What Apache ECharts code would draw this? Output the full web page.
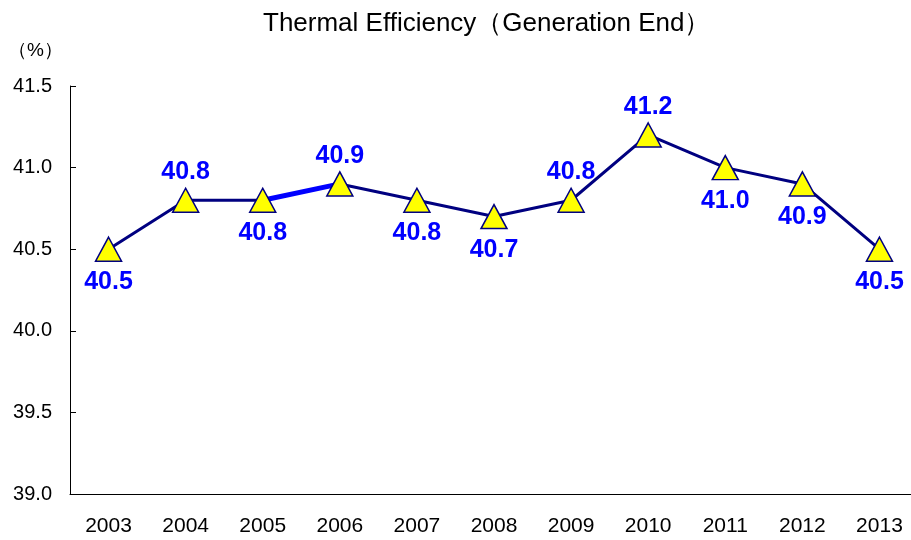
<!DOCTYPE html>
<html>
<head>
<meta charset="utf-8">
<script src="https://cdn.jsdelivr.net/npm/echarts@6/dist/echarts.min.js"></script>
<style>
  html, body { margin: 0; padding: 0; background: #fff; overflow: hidden; }
  /* the original plot runs a little past the right edge of the picture */
  #main { width: 920px; height: 540px; }
</style>
</head>
<body>
<div id="main"></div>
<script>
// data
var years = ['2003', '2004', '2005', '2006', '2007', '2008', '2009', '2010', '2011', '2012', '2013'];
var efficiency = [40.5, 40.8, 40.8, 40.9, 40.8, 40.7, 40.8, 41.2, 41.0, 40.9, 40.5];
var yTicks = [39.0, 39.5, 40.0, 40.5, 41.0, 41.5];

// labels above the marker for these years, the rest go below
var above = ['2004', '2006', '2009', '2010'];

var chart = echarts.init(document.getElementById('main'));

var points = efficiency.map(function (v, i) {
  var up = above.indexOf(years[i]) >= 0;
  return {
    value: v,
    label: { position: up ? 'top' : 'bottom', distance: up ? 3 : 8 }
  };
});

// the 2005-2006 piece is drawn brighter in the original
var hiSeg = efficiency.map(function (v, i) {
  return (i == 2 || i == 3) ? v : null;
});

var option = {
  backgroundColor: '#fff',
  animation: false,
  title: [{
    text: 'Thermal Efficiency（Generation End）',
    left: 258,
    top: 6,
    textStyle: { fontFamily: 'Liberation Sans', fontSize: 26, fontWeight: 'normal', color: '#000' }
  }, {
    text: '（%）',
    left: 3,
    top: 36,
    textStyle: { fontFamily: 'Liberation Sans', fontSize: 19, fontWeight: 'normal', color: '#000' }
  }],
  grid: { left: 70, right: 2, top: 86, bottom: 46 },
  xAxis: {
    type: 'category',
    data: years,
    boundaryGap: true,
    axisLine: { lineStyle: { color: '#000', width: 1 } },
    axisTick: { inside: true, length: 6, lineStyle: { color: '#000' } },
    axisLabel: { fontFamily: 'Liberation Sans', fontSize: 21, color: '#000', margin: 22 }
  },
  yAxis: {
    type: 'value',
    min: yTicks[0],
    max: yTicks[yTicks.length - 1],
    interval: 0.5,
    axisLine: { show: true, lineStyle: { color: '#000', width: 1 } },
    axisTick: { show: true, inside: true, length: 6, lineStyle: { color: '#000' } },
    splitLine: { show: false },
    axisLabel: {
      fontFamily: 'Liberation Sans', fontSize: 20, color: '#000', margin: 18,
      formatter: function (v) { return v.toFixed(1); }
    }
  },
  series: [{
    // navy line
    type: 'line',
    data: efficiency,
    symbol: 'none',
    z: 2,
    lineStyle: { color: '#000080', width: 3 }
  }, {
    type: 'line',
    data: hiSeg,
    symbol: 'none',
    z: 3,
    lineStyle: { color: '#0000ff', width: 5 }
  }, {
    // markers + labels on top
    type: 'line',
    data: points,
    z: 4,
    symbol: 'triangle',
    symbolSize: [26, 24],
    itemStyle: { color: '#ffff00', borderColor: '#000080', borderWidth: 1.5 },
    lineStyle: { width: 0, opacity: 0 },
    label: {
      show: true,
      fontFamily: 'Liberation Sans',
      fontSize: 25,
      fontWeight: 'bold',
      color: '#0000ff',
      formatter: function (p) { return p.value.toFixed(1); }
    }
  }]
};

chart.setOption(option);
</script>
</body>
</html>
